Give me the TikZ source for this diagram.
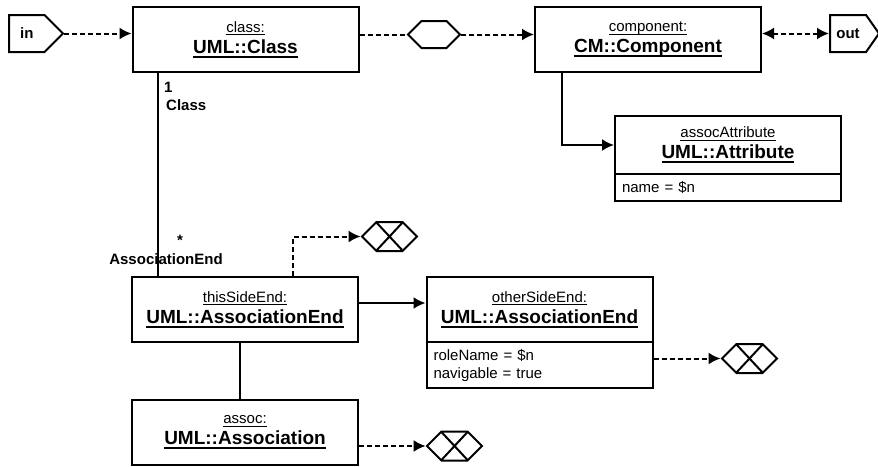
\documentclass[tikz,border=0pt]{standalone}
\usepackage{fontspec}
\setmainfont{Liberation Sans}
\usetikzlibrary{arrows.meta,shapes.symbols}
\tikzset{>={Latex[length=12pt,width=12pt]}}
\tikzset{
  obj/.style={draw,line width=2pt,minimum width=226pt,minimum height=65pt,inner sep=0pt,align=center,font=\fontsize{15}{19}\selectfont},
  slot/.style={draw,line width=2pt,text width=212pt,inner xsep=7pt,inner ysep=0pt,align=left,font=\fontsize{15}{18}\selectfont},
  iface/.style={draw,line width=2pt,signal,signal to=east,minimum width=54pt,minimum height=37pt,inner sep=0pt,font=\bfseries\fontsize{15}{18}\selectfont},
  gate/.style={draw,line width=2pt,signal,signal to=east and west,minimum width=52pt,minimum height=27pt,inner sep=0pt},
  sink/.style={gate,minimum width=55pt,minimum height=29pt,
    path picture={\draw[line width=2pt]
      ([xshift=14pt]path picture bounding box.north west) -- ([xshift=-14pt]path picture bounding box.south east)
      ([xshift=-14pt]path picture bounding box.north east) -- ([xshift=14pt]path picture bounding box.south west);}},
  solidline/.style={line width=2pt},
  dashline/.style={line width=2pt,dash pattern=on 5pt off 3pt},
  rolelabel/.style={font=\bfseries\fontsize{15}{18}\selectfont,inner sep=1pt}
}
% underline of given thickness and depth
\newcommand{\ulined}[3]{\setbox0=\hbox{#3}\leavevmode\rlap{\rule[-#2]{\wd0}{#1}}\box0}
\newcommand{\objname}[2]{\ulined{1.2pt}{3.2pt}{#1}\\[2pt]{\bfseries\fontsize{19}{22}\selectfont\ulined{2pt}{4.6pt}{#2}}}

\begin{document}
\begin{tikzpicture}[x=1pt,y=-1pt]
\useasboundingbox (0,0) rectangle (878,466);
% top row
\node[iface,anchor=west] (in) at (8,33.5) {in};
\node[obj] (class) at (245.5,39.5) {\objname{class:}{UML::Class}};
\node[gate] (join) at (434,34.5) {};
\node[obj] (comp) at (648,39.5) {\objname{component:}{CM::Component}};
\node[iface,anchor=west,minimum width=49pt,signal pointer angle=110] (out) at (829,33.5) {out};
\node[obj,minimum height=58pt] (attr) at (728,145) {\objname{assocAttribute}{UML::Attribute}};
\node[slot,minimum height=27pt,anchor=north] (attrslot) at ([yshift=2pt]attr.south) {name = \$n};
\draw[dashline,->] (in.east) -- (in.east -| class.west);
\draw[dashline] (join.west -| class.east) -- (join.west);
\draw[dashline,->] (join.east) -- (join.east -| comp.west);
\draw[dashline,<->] (out.west -| comp.east) -- (out.west);
\draw[solidline,->] ([xshift=-86pt]comp.south) |- (attr.west);
% association ends
\node[obj] (this) at (245,309.5) {\objname{thisSideEnd:}{UML::AssociationEnd}};
\node[obj] (other) at (539.5,309.5) {\objname{otherSideEnd:}{UML::AssociationEnd}};
\node[slot,minimum height=46pt,anchor=north] (otherslot) at ([yshift=2pt]other.south) {roleName = \$n\\navigable = true};
\node[obj] (assoc) at (245,432.5) {\objname{assoc:}{UML::Association}};
\node[sink] (dropthis) at (389.5,236.5) {};
\node[sink] (dropother) at (749.5,358.5) {};
\node[sink] (dropassoc) at (454.5,446) {};
\coordinate (clsend) at ([xshift=26pt]class.south west);
\draw[solidline] (clsend) -- (clsend |- this.north);
\node[rolelabel,anchor=west] (one) at (163,87) {1};
\node[rolelabel,anchor=west] (clsrole) at (165,105) {Class};
\node[rolelabel] (many) at (180,240) {*};
\node[rolelabel] (endrole) at (166,259) {AssociationEnd};
\draw[solidline] ([xshift=-5pt]this.south) -- ([xshift=-5pt]assoc.north);
\draw[solidline,->] ([yshift=6.5pt]this.east) -- ([yshift=6.5pt]other.west);
\draw[dashline,->] ([xshift=48pt]this.north) |- (dropthis.west);
\draw[dashline,->] (dropother.west -| otherslot.east) -- (dropother.west);
\draw[dashline,->] (dropassoc.west -| assoc.east) -- (dropassoc.west);
\end{tikzpicture}
\end{document}
